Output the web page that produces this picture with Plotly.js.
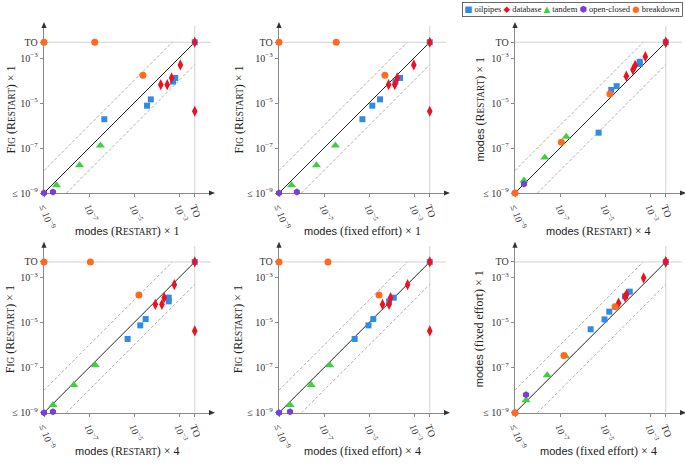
<!DOCTYPE html>
<html><head><meta charset="utf-8">
<script src="https://cdn.plot.ly/plotly-3.0.1.min.js"></script>
<style>html,body{margin:0;padding:0;background:#fff}#chart{width:685px;height:466px}</style>
</head><body><div id="chart"></div>
<script>
// ---- data ('TO' = timeout, 'LE' = <= 1e-9) ----
const TO_VALUE = Math.pow(10, -2.3);
const FLOOR = 1e-9;
const seriesNames = ['oilpipes', 'database', 'tandem', 'open-closed', 'breakdown'];
const seriesColors = ['#2F8CE6', '#EE1122', '#3CD23C', '#7A3ED8', '#FF6A20'];
const seriesSymbols = ['square', 'diamond-tall', 'triangle-up', 'hexagon', 'circle'];

const benchmark = ['oilpipes','oilpipes','oilpipes','oilpipes','oilpipes','oilpipes',
  'database','database','database','database','database','database',
  'tandem','tandem','tandem','open-closed','open-closed','breakdown','breakdown','breakdown'];
const figRestart1 =    [1.9e-6, 7.6e-6, 1.45e-5, 8.9e-5, 1.3e-4, 'TO',
  'TO', 4.9e-4, 1.3e-4, 6.5e-5, 6.5e-5, 4.3e-6,  2.2e-9, 1.7e-8, 1.3e-7,  'LE', 1.1e-9,  'TO', 'TO', 1.7e-4];
const modesRestart1 =  [4.8e-7, 3.8e-5, 5.6e-5, 5.4e-4, 6.8e-4, 'TO',
  'TO', 1.15e-3, 4.7e-4, 1.55e-4, 3.0e-4, 'TO',  3.6e-9, 3.8e-8, 3.2e-7,  'LE', 2.5e-9,  'LE', 1.8e-7, 2.5e-5];
const modesFixed1 =    [5.1e-6, 1.4e-5, 3.1e-5, 1.5e-4, 2.4e-4, 'TO',
  'TO', 9.8e-4, 1.8e-4, 7.4e-5, 1.4e-4, 'TO',  3.6e-9, 4.6e-8, 3.2e-7,  'LE', 6.2e-9,  'LE', 3.5e-7, 5.1e-5];
const modesRestart4 =  [5.2e-6, 1.9e-5, 3.3e-5, 3.5e-4, 3.5e-4, 'TO',
  'TO', 6.2e-4, 2.2e-4, 8.9e-5, 1.74e-4, 'TO', 2.5e-9, 2.1e-8, 1.9e-7,  'LE', 2.5e-9,  'LE', 1.15e-7, 1.65e-5];
const modesFixed4 =    [2.3e-6, 9.5e-6, 1.55e-5, 7.8e-5, 1.26e-4, 'TO',
  'TO', 5.2e-4, 9.1e-5, 4.0e-5, 7.8e-5, 'TO',  3.1e-9, 2.7e-8, 1.8e-7,  'LE', 3.1e-9,  'LE', 1.5e-7, 2.8e-5];

const tickValues = [FLOOR, 1e-7, 1e-5, 1e-3, TO_VALUE];
const tickLabels = ['≤ 10<sup>−9</sup>', '10<sup>−7</sup>', '10<sup>−5</sup>', '10<sup>−3</sup>', 'TO'];

const SERIF = 'Liberation Serif, Times New Roman, serif';

// ---- titles ----
const sc = (c, rest) => c + '<span style="font-size:9.3px">' + rest + '</span>';
const RESTART = sc('R', 'ESTART');
const FIG = sc('F', 'IG');
const MODES = '<span style="font-family:Liberation Sans,Arial,sans-serif;font-size:11px">modes</span>';
const tFigR1 = FIG + ' (' + RESTART + ') × 1';
const tModesR1 = MODES + ' (' + RESTART + ') × 1';
const tModesR4 = MODES + ' (' + RESTART + ') × 4';
const tModesF1 = MODES + ' (fixed effort) × 1';
const tModesF4 = MODES + ' (fixed effort) × 4';

const panels = [
  {x: modesRestart1, y: figRestart1, xt: tModesR1, yt: tFigR1},
  {x: modesFixed1,   y: figRestart1, xt: tModesF1, yt: tFigR1},
  {x: modesRestart4, y: modesRestart1, xt: tModesR4, yt: tModesR1},
  {x: modesRestart4, y: figRestart1, xt: tModesR4, yt: tFigR1},
  {x: modesFixed4,   y: figRestart1, xt: tModesF4, yt: tFigR1},
  {x: modesFixed4,   y: modesFixed1, xt: tModesF4, yt: tModesF1}
];

// ---- layout geometry (pixels) ----
const W = 685, H = 466, SIZE = 167;
const colLeft = [44, 279, 515];
const rowBottom = [193, 412.7];
const yTitleX = [10, 238, 479];
const xTitleY = [231, 451];
const RANGE_MAX = -9 + SIZE / 22.5;
const px = x => x / W, py = y => 1 - y / H;
const val = v => v === 'TO' ? TO_VALUE : (v === 'LE' ? FLOOR : v);

const traces = [];
const layout = {
  width: W, height: H, margin: {l: 0, r: 0, t: 0, b: 0},
  paper_bgcolor: '#fff', plot_bgcolor: 'rgba(0,0,0,0)', showlegend: false,
  font: {family: SERIF, color: '#222'},
  shapes: [], annotations: []
};

panels.forEach((p, i) => {
  const r = Math.floor(i / 3), c = i % 3;
  const n = i === 0 ? '' : String(i + 1);
  const xa = 'x' + n, ya = 'y' + n;
  const left = colLeft[c], bottom = rowBottom[r];
  const common = {
    type: 'log', range: [-9, RANGE_MAX], showline: true, linecolor: '#8a8a8a', linewidth: 1.3,
    showgrid: false, zeroline: false, ticks: 'outside', ticklen: 3, tickcolor: '#8a8a8a',
    tickmode: 'array', tickvals: tickValues, ticktext: tickLabels, layer: 'below traces',
    tickfont: {family: SERIF, size: 10, color: '#333'}, fixedrange: true
  };
  layout['xaxis' + n] = Object.assign({}, common, {domain: [px(left), px(left + SIZE)], anchor: ya, tickangle: 70});
  layout['yaxis' + n] = Object.assign({}, common, {domain: [py(bottom), py(bottom - SIZE)], anchor: xa});

  const top = Math.pow(10, RANGE_MAX);
  const lineT = (xs, ys, line) => traces.push({type: 'scatter', mode: 'lines', x: xs, y: ys, xaxis: xa, yaxis: ya,
    line: line, hoverinfo: 'skip', showlegend: false});
  lineT([TO_VALUE, TO_VALUE], [FLOOR, top], {color: '#d2d2d2', width: 1});
  lineT([FLOOR, top], [TO_VALUE, TO_VALUE], {color: '#d2d2d2', width: 1});
  lineT([FLOOR, TO_VALUE / 10], [FLOOR * 10, TO_VALUE], {color: '#9a9a9a', width: 0.8, dash: '3px,2px'});
  lineT([FLOOR * 10, TO_VALUE], [FLOOR, TO_VALUE / 10], {color: '#9a9a9a', width: 0.8, dash: '3px,2px'});
  lineT([FLOOR, TO_VALUE], [FLOOR, TO_VALUE], {color: '#222', width: 1});

  seriesNames.forEach((s, k) => {
    const idx = benchmark.map((b, j) => b === s ? j : -1).filter(j => j >= 0);
    traces.push({
      type: 'scatter', mode: 'markers', name: s, xaxis: xa, yaxis: ya, cliponaxis: false,
      x: idx.map(j => val(p.x[j])), y: idx.map(j => val(p.y[j])),
      marker: {color: seriesColors[k], symbol: seriesSymbols[k],
        size: [6, 8, 8, 7, 7][k], line: {width: 0}},
      showlegend: false
    });
  });

  const right = left + SIZE, topPx = bottom - SIZE;
  layout.shapes.push({type: 'path', xref: 'paper', yref: 'paper', fillcolor: '#333', line: {width: 0},
    path: `M${px(right + 4)},${py(bottom)} L${px(right - 2)},${py(bottom - 2.6)} L${px(right - 2)},${py(bottom + 2.6)} Z`});
  layout.shapes.push({type: 'path', xref: 'paper', yref: 'paper', fillcolor: '#333', line: {width: 0},
    path: `M${px(left)},${py(topPx - 4)} L${px(left - 2.6)},${py(topPx + 2)} L${px(left + 2.6)},${py(topPx + 2)} Z`});

  layout.annotations.push({xref: 'paper', yref: 'paper', x: px(left + SIZE / 2), y: py(xTitleY[r]),
    xanchor: 'center', yanchor: 'middle', showarrow: false, text: p.xt,
    font: {family: SERIF, size: 12, color: '#222'}});
  layout.annotations.push({xref: 'paper', yref: 'paper', x: px(yTitleX[c]), y: py(bottom - SIZE / 2),
    xanchor: 'center', yanchor: 'middle', showarrow: false, textangle: -90, text: p.yt,
    font: {family: SERIF, size: 12, color: '#222'}});
});

// legend box
const legendText = seriesNames.map((s, k) =>
  '<span style="color:' + seriesColors[k] + ';font-family:DejaVu Sans">' + ['■', '◆', '▲', '⬢', '●'][k] + '</span> ' + s
).join(' ');
layout.annotations.push({xref: 'paper', yref: 'paper', x: px(683), y: py(9.5), xanchor: 'right', yanchor: 'middle',
  showarrow: false, text: legendText, bordercolor: '#444', borderwidth: 0.8, borderpad: 1.5, bgcolor: '#fff',
  font: {family: SERIF, size: 8.5, color: '#222'}});

Plotly.newPlot('chart', traces, layout, {staticPlot: true, displayModeBar: false});
</script>
</body></html>
